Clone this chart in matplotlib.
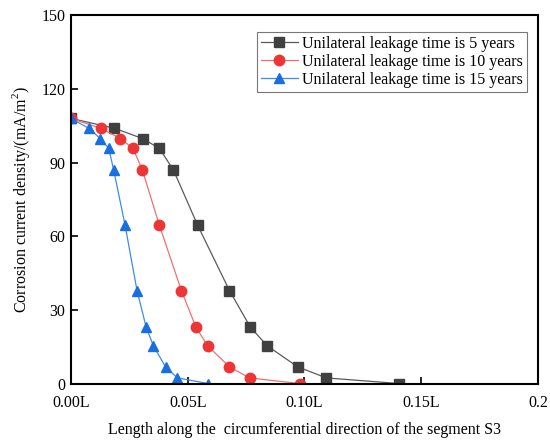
import matplotlib
matplotlib.use("Agg")
import matplotlib.pyplot as plt

plt.rcParams['font.family'] = ['Liberation Serif', 'DejaVu Serif']
plt.rcParams['mathtext.fontset'] = 'custom'
plt.rcParams['mathtext.rm'] = 'Liberation Serif'

x_5 = [0.0, 0.0186, 0.0307, 0.0379, 0.0439, 0.0543, 0.0679, 0.0768, 0.0840, 0.0971, 0.1094, 0.1406]
y_5 = [108.0, 104.0, 99.8, 95.8, 87.0, 64.5, 38.0, 23.2, 15.6, 7.0, 2.5, 0.2]

x_10 = [0.0, 0.0127, 0.0212, 0.0266, 0.0306, 0.0379, 0.0473, 0.0535, 0.0585, 0.0679, 0.0765, 0.0980]
y_10 = [108.0, 104.0, 99.8, 95.8, 87.0, 64.5, 38.0, 23.2, 15.6, 7.0, 2.5, 0.2]

x_15 = [0.0, 0.0076, 0.0126, 0.0162, 0.0183, 0.0232, 0.0283, 0.0322, 0.0353, 0.0405, 0.0456, 0.0589]
y_15 = [108.0, 104.0, 99.8, 95.8, 87.0, 64.5, 38.0, 23.2, 15.6, 7.0, 2.5, 0.2]

labels = ["Unilateral leakage time is 5 years",
          "Unilateral leakage time is 10 years",
          "Unilateral leakage time is 15 years"]

xticks = [0.0, 0.05, 0.10, 0.15, 0.2]
xticklabels = ["0.00L", "0.05L", "0.10L", "0.15L", "0.2"]
yticks = [0, 30, 60, 90, 120, 150]

fig = plt.figure(figsize=(5.5, 4.44), dpi=100)
ax = fig.add_axes([0.129, 0.135, 0.849, 0.831])

ax.plot(x_5, y_5, color='#5a5a5a', lw=0.9, marker='s', ms=6.5,
        mfc='#404040', mec='#404040', label=labels[0])
ax.plot(x_10, y_10, color='#f07070', lw=0.9, marker='o', ms=7.5,
        mfc='#ee3535', mec='#ee3535', label=labels[1])
ax.plot(x_15, y_15, color='#3d8ce8', lw=0.9, marker='^', ms=7.5,
        mfc='#1a6fdf', mec='#1a6fdf', label=labels[2])

ax.set_xlim(0, 0.2)
ax.set_ylim(0, 150)
ax.set_xticks(xticks)
ax.set_xticklabels(xticklabels)
ax.set_yticks(yticks)
ax.tick_params(direction='in', length=5, width=1.2, labelsize=11.5, pad=4)
ax.tick_params(axis='x', pad=8)
for s in ax.spines.values():
    s.set_linewidth(1.5)

ax.set_xlabel("Length along the  circumferential direction of the segment S3", fontsize=11.5, labelpad=8)
ax.set_ylabel("Corrosion current density/(mA/m$^2$)", fontsize=11.5, labelpad=7)

leg = ax.legend(loc='upper right', bbox_to_anchor=(0.977, 0.954), fontsize=11.5,
                frameon=True, fancybox=False, edgecolor='#555555', handlelength=2.3,
                handletextpad=0.3, borderpad=0.25, labelspacing=0.12, borderaxespad=0)
leg.get_frame().set_linewidth(0.8)

fig.savefig("out.png", dpi=100)
